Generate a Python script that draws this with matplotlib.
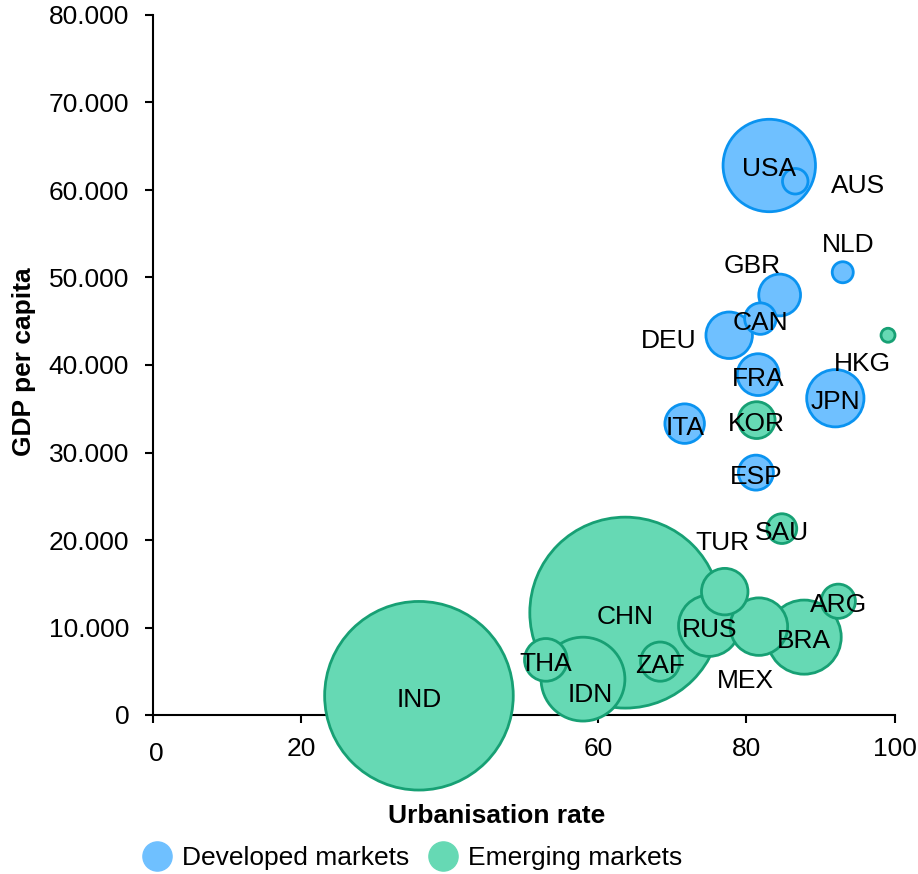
import numpy as np
import matplotlib
matplotlib.use("Agg")
import matplotlib.pyplot as plt
import matplotlib.transforms as mtransforms
from matplotlib.lines import Line2D
from matplotlib.ticker import FuncFormatter, MultipleLocator

plt.rcParams['font.family'] = ['Liberation Sans', 'DejaVu Sans']

# Données
countries = ["USA", "AUS", "NLD", "GBR", "CAN", "DEU", "FRA", "JPN", "ITA", "ESP",
             "HKG", "KOR", "SAU", "TUR", "ARG", "CHN", "RUS", "MEX", "BRA", "ZAF",
             "THA", "IDN", "IND"]
urban = [83.1, 86.6, 93.0, 84.5, 81.9, 77.7, 81.6, 92.0, 71.7, 81.3,
         99.1, 81.4, 84.8, 77.1, 92.4, 63.7, 75.0, 81.7, 87.8, 68.4,
         53.0, 58.0, 35.9]
gdp = [62800, 61000, 50600, 48000, 45300, 43400, 38900, 36200, 33300, 27700,
       43400, 33700, 21300, 14100, 13000, 11700, 10200, 10100, 8900, 6100,
       6300, 4100, 2200]
population = [328, 25, 17, 67, 38, 83, 67, 126, 60, 47,
              7.5, 52, 34, 83, 45, 1400, 144, 127, 211, 59,
              70, 270, 1366]
group = ["Developed markets"] * 10 + ["Emerging markets"] * 13

# décalage des étiquettes (pixels)
label_offsets = {"AUS": (63, -1), "NLD": (5, 31), "GBR": (-27, 33), "DEU": (-61, -2),
                 "HKG": (-26, -25), "TUR": (-2, 53), "MEX": (-13, -50), "IDN": (7, -12)}

colors = {"Developed markets": ("#6FC0FF", "#0A93F0"),
          "Emerging markets": ("#66D9B4", "#17A074")}
size_scale = 13.5
fs = 19

fig = plt.figure(figsize=(9.18, 8.74), dpi=100)
ax = fig.add_axes([152.5 / 918, 1 - 715 / 874, 742.2 / 918, 700 / 874])

urban = np.array(urban)
gdp = np.array(gdp)
population = np.array(population)
group = np.array(group)

for g in ["Developed markets", "Emerging markets"]:
    idx = np.where(group == g)[0]
    idx = idx[np.argsort(-population[idx])]  # les plus petites bulles au-dessus
    fc, ec = colors[g]
    ax.scatter(urban[idx], gdp[idx], s=population[idx] * size_scale, c=fc,
               edgecolors=ec, linewidths=2, zorder=3, clip_on=False)

for i, c in enumerate(countries):
    dx, dy = label_offsets.get(c, (0, 0))
    ax.annotate(c, (urban[i], gdp[i]), xytext=(dx, dy - 4), textcoords="offset pixels",
                ha="center", va="center", fontsize=fs, zorder=5)

ax.set_xlim(0, 100)
ax.set_ylim(0, 80000)
ax.set_xticks([0, 20, 40, 60, 80, 100])
ax.yaxis.set_major_locator(MultipleLocator(10000))
ax.yaxis.set_major_formatter(FuncFormatter(lambda v, p: f"{v:,.0f}".replace(",", ".")))
ax.spines["top"].set_visible(False)
ax.spines["right"].set_visible(False)
for s in ["left", "bottom"]:
    ax.spines[s].set_linewidth(1.5)
    ax.spines[s].set_zorder(2)
ax.tick_params(axis="both", direction="out", length=5.8, width=1.5, labelsize=fs)
ax.tick_params(axis="y", pad=11)
ax.tick_params(axis="x", pad=10)

# le "0" de l'axe x est un peu plus bas
lab0 = ax.get_xticklabels()[0]
lab0.set_transform(lab0.get_transform() + mtransforms.ScaledTranslation(0.04, -0.05, fig.dpi_scale_trans))

ax.set_xlabel("Urbanisation rate", fontsize=fs, fontweight="bold")
ax.xaxis.set_label_coords(0.463, -0.127)
ax.set_ylabel("GDP per capita", fontsize=fs, fontweight="bold")
ax.yaxis.set_label_coords(-0.157, 0.505)

handles = [Line2D([], [], marker="o", linestyle="", markersize=21,
                  markerfacecolor=colors[g][0], markeredgecolor=colors[g][0])
           for g in ["Developed markets", "Emerging markets"]]
fig.legend(handles, ["Developed markets", "Emerging markets"], loc="center",
           bbox_to_anchor=(413 / 918, 1 - 858 / 874), ncol=2, frameon=False,
           fontsize=fs, handlelength=1.0, handletextpad=0.45, columnspacing=0.77,
           borderpad=0)

fig.savefig("out.png", dpi=100)
